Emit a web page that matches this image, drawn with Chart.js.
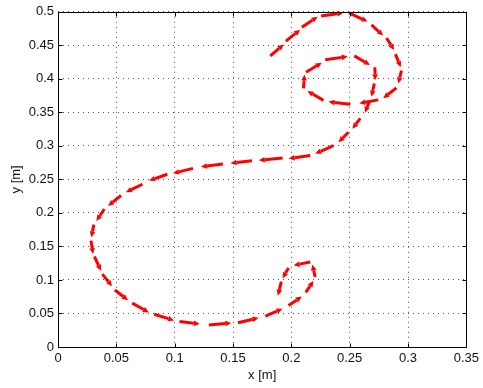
<!DOCTYPE html>
<html>
<head>
<meta charset="utf-8">
<script src="https://cdn.jsdelivr.net/npm/chart.js@4/dist/chart.umd.min.js"></script>
<style>
  body { margin: 0; background: #fff; }
  #wrap { width: 483px; height: 388px; }
</style>
</head>
<body>
<div id="wrap"><canvas id="chart" width="483" height="388"></canvas></div>
<script>
// quiver arrows along the path: tail position (x, y) and components (u, v), in metres
const xTail = [0.1820, 0.1953, 0.2090, 0.2255, 0.2494, 0.2687, 0.2815, 0.2892, 0.2944, 0.2901,
               0.2745, 0.2506, 0.2275, 0.2104, 0.2126, 0.2290, 0.2540, 0.2716, 0.2711, 0.2668,
               0.2591, 0.2489, 0.2361, 0.2162, 0.1925, 0.1663, 0.1413, 0.1157, 0.0937, 0.0724,
               0.0540, 0.0397, 0.0307, 0.0283, 0.0312, 0.0380, 0.0487, 0.0636, 0.0824, 0.1041,
               0.1293, 0.1543, 0.1777, 0.1976, 0.2124, 0.2204, 0.2162, 0.1976, 0.1914];
const yTail = [0.4343, 0.4562, 0.4771, 0.4937, 0.4985, 0.4806, 0.4610, 0.4368, 0.4124, 0.3866,
               0.3686, 0.3620, 0.3679, 0.3857, 0.4099, 0.4285, 0.4343, 0.4172, 0.3930, 0.3657,
               0.3409, 0.3204, 0.3004, 0.2858, 0.2818, 0.2777, 0.2730, 0.2664, 0.2577, 0.2428,
               0.2260, 0.2058, 0.1825, 0.1587, 0.1350, 0.1088, 0.0850, 0.0654, 0.0489, 0.0380,
               0.0328, 0.0362, 0.0460, 0.0620, 0.0815, 0.1044, 0.1267, 0.1180, 0.0975];
const uComp = [0.0114, 0.0123, 0.0136, 0.0191, 0.0159, 0.0100, 0.0066, 0.0046, -0.0028, -0.0114,
               -0.0163, -0.0188, -0.0137, 0.0009, 0.0135, 0.0193, 0.0134, 0.0003, -0.0024, -0.0037,
               -0.0068, -0.0085, -0.0157, -0.0185, -0.0204, -0.0184, -0.0188, -0.0171, -0.0156, -0.0142,
               -0.0111, -0.0068, -0.0021, 0.0017, 0.0057, 0.0083, 0.0113, 0.0143, 0.0171, 0.0174,
               0.0192, 0.0177, 0.0148, 0.0114, 0.0066, -0.0023, -0.0143, -0.0051, -0.0029];
const vComp = [0.0171, 0.0171, 0.0156, 0.0048, -0.0131, -0.0161, -0.0179, -0.0196, -0.0194, -0.0155,
               -0.0051, 0.0037, 0.0139, 0.0209, 0.0142, 0.0048, -0.0136, -0.0194, -0.0196, -0.0161,
               -0.0154, -0.0150, -0.0121, -0.0048, -0.0033, -0.0035, -0.0041, -0.0073, -0.0095, -0.0119,
               -0.0155, -0.0179, -0.0190, -0.0200, -0.0214, -0.0183, -0.0152, -0.0139, -0.0092, -0.0037,
               0.0030, 0.0073, 0.0112, 0.0132, 0.0170, 0.0185, -0.0048, -0.0155, -0.0209];

const xTicks = [0, 0.05, 0.1, 0.15, 0.2, 0.25, 0.3, 0.35];
const yTicks = [0, 0.05, 0.1, 0.15, 0.2, 0.25, 0.3, 0.35, 0.4, 0.45, 0.5];

const font = { family: 'Liberation Sans, Arial, Helvetica, sans-serif', size: 13 };

// box round the axes with small inward tick marks, matlab style
const axesBox = {
    id: 'axesBox',
    afterDraw(chart) {
        const { ctx, chartArea: a, scales } = chart;
        const l = Math.round(a.left) + 0.5, r = Math.round(a.right) + 0.5;
        const t = Math.round(a.top) + 0.5, b = Math.round(a.bottom) + 0.5;
        ctx.save();
        ctx.strokeStyle = '#000';
        ctx.lineWidth = 1;
        ctx.beginPath();
        xTicks.forEach(function (v) {
            const px = Math.round(scales.x.getPixelForValue(v)) + 0.5;
            ctx.moveTo(px, b); ctx.lineTo(px, b - 4);
            ctx.moveTo(px, t); ctx.lineTo(px, t + 4);
        });
        yTicks.forEach(function (v) {
            const py = Math.round(scales.y.getPixelForValue(v)) + 0.5;
            ctx.moveTo(l, py); ctx.lineTo(l + 4, py);
            ctx.moveTo(r, py); ctx.lineTo(r - 4, py);
        });
        ctx.stroke();
        ctx.strokeRect(l, t, r - l, b - t);
        ctx.restore();
    }
};

// draws each (u, v) as a red arrow starting at its tail point
const quiver = {
    id: 'quiver',
    afterDatasetsDraw(chart) {
        const { ctx, scales } = chart;
        ctx.save();
        ctx.strokeStyle = '#ff0000';
        ctx.fillStyle = '#ff0000';
        ctx.lineWidth = 3;
        ctx.lineCap = 'butt';
        xTail.forEach(function (x, i) {
            const x0 = scales.x.getPixelForValue(x);
            const y0 = scales.y.getPixelForValue(yTail[i]);
            const x1 = scales.x.getPixelForValue(x + uComp[i]);
            const y1 = scales.y.getPixelForValue(yTail[i] + vComp[i]);
            const ang = Math.atan2(y1 - y0, x1 - x0);
            const len = 6, half = 2.8;
            const bx = x1 - len * Math.cos(ang), by = y1 - len * Math.sin(ang);
            ctx.beginPath();
            ctx.moveTo(x0, y0);
            ctx.lineTo(bx, by);
            ctx.stroke();
            ctx.beginPath();
            ctx.moveTo(x1, y1);
            ctx.lineTo(bx - half * Math.sin(ang), by + half * Math.cos(ang));
            ctx.lineTo(bx + half * Math.sin(ang), by - half * Math.cos(ang));
            ctx.closePath();
            ctx.fill();
        });
        ctx.restore();
    }
};

const ctx = document.getElementById('chart');
const chart = new Chart(ctx, {
    type: 'scatter',
    data: {
        datasets: [{
            data: xTail.map(function (x, i) { return { x: x, y: yTail[i] }; }),
            pointRadius: 0,
            showLine: false,
        }]
    },
    options: {
        responsive: false,
        animation: false,
        layout: { padding: { top: 5, right: 15, left: 0, bottom: 0 } },
        plugins: {
            legend: { display: false },
            tooltip: { enabled: false },
        },
        scales: {
            x: {
                type: 'linear',
                min: 0,
                max: 0.35,
                afterBuildTicks: function (s) { s.ticks = xTicks.map(function (v) { return { value: v }; }); },
                afterFit: function (s) { s.height = 41; },
                ticks: {
                    font: font,
                    color: '#111',
                    padding: 4,
                    maxRotation: 0,
                    callback: function (v) { return String(v); },
                },
                grid: { color: '#555', lineWidth: 1, drawTicks: false },
                border: { display: false, dash: [1, 4] },
                title: { display: true, text: 'x [m]', font: font, color: '#111', padding: { top: 0, bottom: 5 } },
            },
            y: {
                type: 'linear',
                min: 0,
                max: 0.5,
                afterBuildTicks: function (s) { s.ticks = yTicks.map(function (v) { return { value: v }; }); },
                afterFit: function (s) { s.width = 58; },
                ticks: {
                    font: font,
                    color: '#111',
                    padding: 4,
                    callback: function (v) { return String(v); },
                },
                grid: { color: '#555', lineWidth: 1, drawTicks: false },
                border: { display: false, dash: [1, 4] },
                title: { display: true, text: 'y [m]', font: font, color: '#111', padding: { top: 9, bottom: 0 } },
            },
        },
    },
    plugins: [axesBox, quiver],
});
</script>
</body>
</html>
